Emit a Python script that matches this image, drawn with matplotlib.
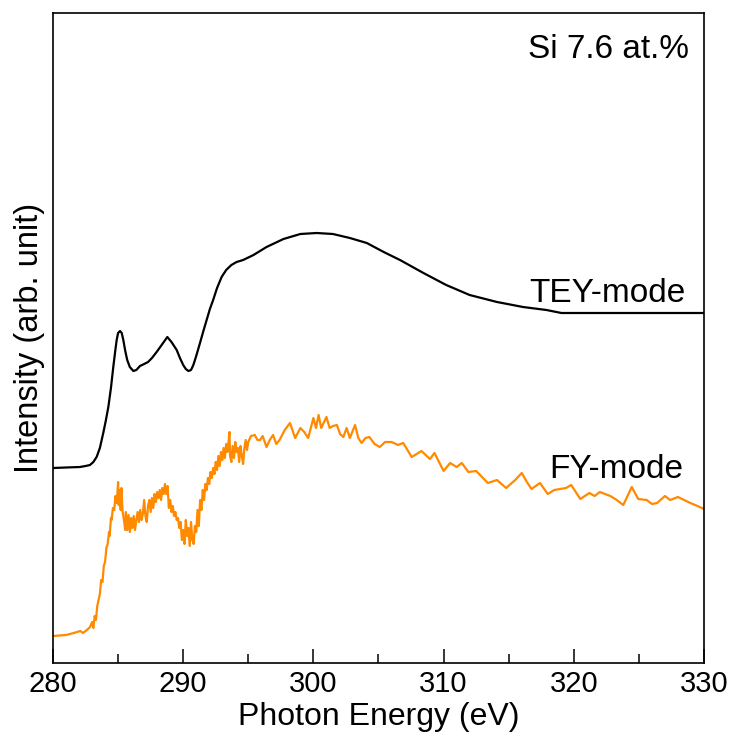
import matplotlib
matplotlib.use("Agg")
import matplotlib.pyplot as plt
from matplotlib.ticker import MultipleLocator

plt.rcParams['font.family'] = ['Liberation Sans', 'DejaVu Sans']

# TEY-mode spectrum (photon energy in eV, intensity in arb. units)
tey_energy = [280.0, 281.0, 282.07, 282.5, 282.84, 283.1, 283.35, 283.6, 283.86, 284.05,
              284.25, 284.45, 284.63, 284.78, 284.89, 285.0, 285.15, 285.28, 285.4, 285.55,
              285.7, 285.9, 286.17, 286.4, 286.68, 287.0, 287.3, 287.6, 287.96, 288.4,
              288.78, 289.1, 289.5, 289.75, 290.0, 290.2, 290.4, 290.6, 290.78, 291.0,
              291.29, 291.55, 291.8, 292.05, 292.3, 292.6, 292.95, 293.3, 293.7, 294.1,
              294.6, 295.4, 296.4, 297.7, 299.0, 300.25, 301.5, 302.8, 304.1, 305.4,
              306.65, 308.45, 310.2, 312.0, 314.1, 316.1, 317.9, 319.05, 319.9, 330.0]
tey_intensity = [195, 195.5, 196, 197, 198, 201, 206, 215, 230, 242,
                 256, 275, 296, 312, 323, 330, 332, 330, 323, 312,
                 303, 296, 292, 293, 297, 299, 301, 305, 311, 319,
                 326, 321, 313, 305, 298, 294, 292, 293, 298, 307,
                 320, 332, 343, 354, 363, 375, 386, 393, 398, 401,
                 403, 408, 416, 424, 429, 430, 429, 425, 420, 411,
                 403, 390, 378, 368, 361, 356, 353, 350, 350, 350]

# FY-mode spectrum
fy_energy = [280.0, 281.0, 281.6, 282.1, 282.3, 282.6, 282.85,
             283.0, 283.1, 283.2, 283.3, 283.4, 283.5, 283.6, 283.7, 283.8, 283.9,
             284.0, 284.1, 284.2, 284.3, 284.35, 284.45, 284.5, 284.6, 284.7, 284.8,
             284.9, 285.0, 285.05, 285.1, 285.2, 285.25, 285.35, 285.45, 285.55, 285.6,
             285.7, 285.8, 285.9, 286.0, 286.1, 286.2, 286.3, 286.4, 286.5, 286.6,
             286.7, 286.8, 286.9, 287.0, 287.1, 287.2, 287.3, 287.4, 287.5, 287.6,
             287.7, 287.8, 287.9, 288.0, 288.1, 288.2, 288.3, 288.4, 288.5, 288.6,
             288.7, 288.8, 288.9, 289.0, 289.1, 289.2, 289.3, 289.4, 289.5, 289.6,
             289.7, 289.8, 289.9, 290.0, 290.1, 290.2, 290.3, 290.4, 290.5, 290.6,
             290.7, 290.8, 290.9, 291.0, 291.1, 291.2, 291.3, 291.4, 291.5, 291.6,
             291.7, 291.8, 291.9, 292.0, 292.1, 292.2, 292.3, 292.4, 292.5, 292.6,
             292.7, 292.8, 292.9, 293.0, 293.1, 293.2, 293.3, 293.4, 293.5, 293.55,
             293.6, 293.7, 293.8, 293.9, 294.0, 294.1, 294.2, 294.3, 294.4, 294.5,
             294.6, 294.7, 294.8, 294.9, 295.0, 295.2, 295.5, 295.7, 295.9, 296.1,
             296.4, 296.65, 296.9, 297.15, 297.4, 297.8, 298.2, 298.6, 299.0, 299.3,
             299.6, 300.0, 300.2, 300.4, 300.6, 301.0, 301.25, 301.5, 301.8, 302.05,
             302.3, 302.55, 302.8, 303.2, 303.45, 303.7, 304.0, 304.3, 304.7, 305.1,
             305.5, 306.0, 306.5, 306.9, 307.55, 308.3, 308.95, 309.3, 310.0, 310.5,
             311.0, 311.4, 311.9, 312.5, 313.4, 314.1, 314.8, 315.5, 316.0, 316.4,
             316.75, 317.4, 318.0, 318.5, 318.95, 319.4, 319.8, 320.5, 321.2, 321.6,
             322.0, 322.8, 323.3, 323.8, 324.45, 324.95, 325.6, 326.0, 326.4, 327.0,
             327.4, 328.0, 328.95, 329.5, 330.0]
fy_intensity = [27, 28, 30, 32, 30, 33, 36,
                41, 35, 47, 43, 57, 63, 69, 83, 81, 97,
                101, 115, 119, 131, 127, 145, 143, 155, 153, 167,
                160, 181, 158, 173, 153, 175, 151, 143, 133, 151,
                133, 148, 131, 145, 135, 147, 133, 143, 151, 141,
                153, 143, 149, 163, 147, 141, 157, 163, 151, 165,
                155, 169, 161, 171, 165, 173, 163, 175, 169, 179,
                169, 177, 155, 163, 151, 157, 147, 151, 143, 145,
                135, 141, 123, 133, 119, 143, 127, 135, 117, 141,
                123, 119, 137, 131, 153, 137, 163, 153, 173, 163,
                179, 173, 185, 179, 191, 185, 195, 189, 201, 193,
                207, 197, 211, 203, 215, 205, 219, 211, 223, 231,
                207, 201, 217, 205, 221, 211, 215, 201, 217, 207,
                199, 215, 223, 213, 221, 227, 228, 223, 223, 227,
                216, 223, 228, 219, 223, 233, 240, 225, 235, 231,
                225, 245, 235, 248, 235, 246, 235, 237, 238, 229,
                226, 235, 225, 238, 225, 220, 225, 226, 219, 216,
                221, 221, 218, 220, 206, 212, 204, 210, 192, 200,
                196, 200, 191, 192, 180, 183, 175, 183, 190, 181,
                174, 180, 169, 173, 174, 175, 178, 164, 170, 167,
                171, 167, 163, 158, 176, 164, 163, 159, 160, 167,
                163, 166, 160, 157, 154]

x_ticks = [280, 290, 300, 310, 320, 330]

fig = plt.figure(figsize=(7.33, 7.33), dpi=100)
ax = fig.add_axes([53 / 733, 70 / 733, 651 / 733, 650 / 733])

ax.plot(tey_energy, tey_intensity, color='black', lw=1.6, solid_joinstyle='round')
ax.plot(fy_energy, fy_intensity, color='#ff8a00', lw=1.6, solid_joinstyle='round')

ax.set_xlim(280, 330)
ax.set_ylim(0, 650)
ax.set_xticks(x_ticks)
ax.xaxis.set_minor_locator(MultipleLocator(5))
ax.set_yticks([])
ax.tick_params(axis='x', which='major', direction='in', length=10, width=1.1,
               labelsize=21, pad=5, top=False)
ax.tick_params(axis='x', which='minor', direction='in', length=6.5, width=1.1, top=False)
for sp in ax.spines.values():
    sp.set_linewidth(1.2)

ax.set_xlabel('Photon Energy (eV)', fontsize=23, labelpad=3)
ax.set_ylabel('Intensity (arb. unit)', fontsize=23.5, labelpad=6)

ax.text(0.977, 0.931, 'Si 7.6 at.%', transform=ax.transAxes, ha='right',
        va='baseline', fontsize=24)
ax.text(0.971, 0.555, 'TEY-mode', transform=ax.transAxes, ha='right',
        va='baseline', fontsize=24)
ax.text(0.968, 0.285, 'FY-mode', transform=ax.transAxes, ha='right',
        va='baseline', fontsize=24)

fig.savefig('out.png', dpi=100)
